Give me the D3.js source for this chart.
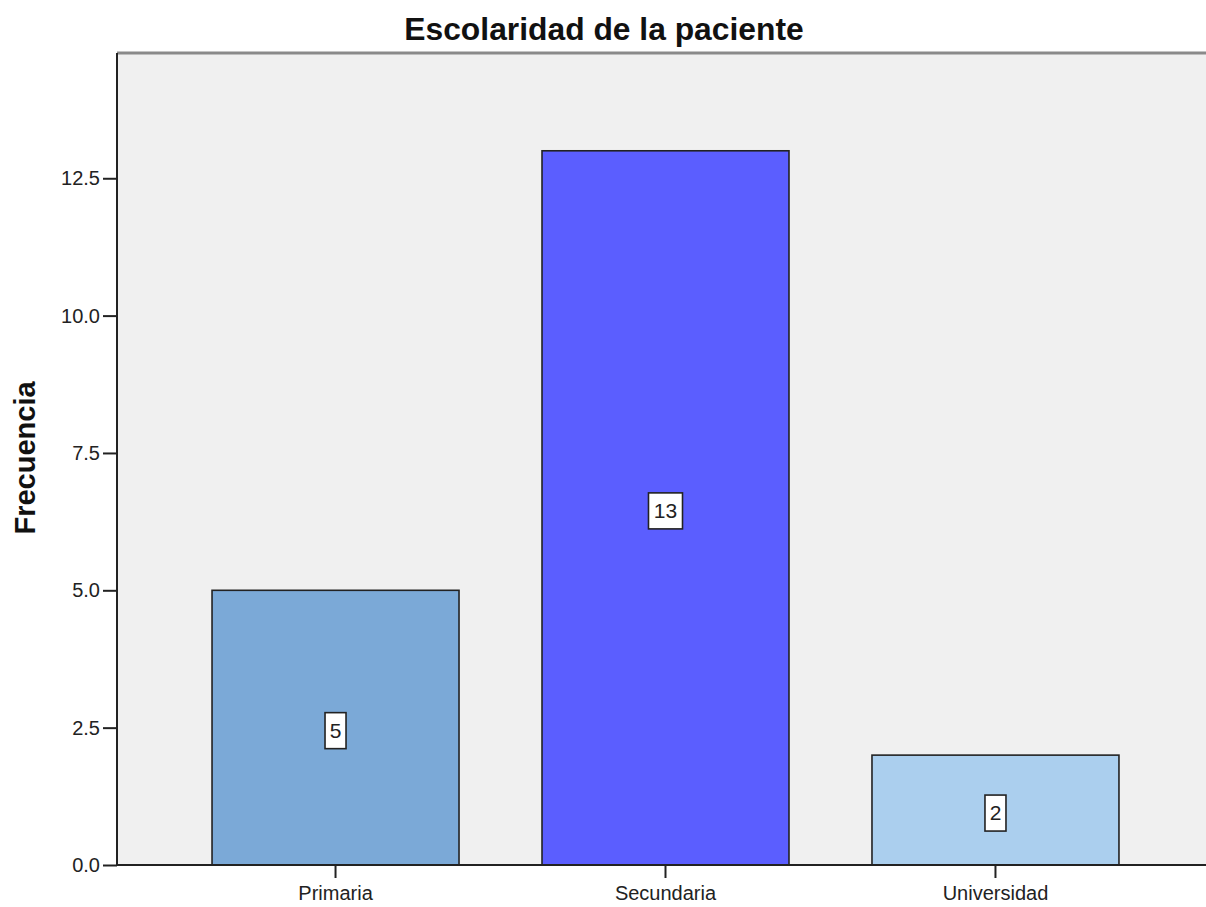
<!DOCTYPE html>
<html><head><meta charset="utf-8">
<script src="https://cdn.jsdelivr.net/npm/d3@7"></script>
<style>body{margin:0;background:#fff}svg{display:block}</style>
</head><body>
<svg id="c" width="1206" height="907"></svg>
<script>
const categories = ["Primaria", "Secundaria", "Universidad"];
const values = [5, 13, 2];
const barColors = ["#7BA9D7", "#5B5EFF", "#ABCFEE"];
const yTicks = [0, 2.5, 5, 7.5, 10, 12.5];
const yMax = 14.78;

const svg = d3.select("#c");
const m = {l: 117, t: 53, r: 1206, b: 865};
const font = "'Liberation Sans', Arial, sans-serif";

const x = d3.scaleBand().domain(categories).range([m.l, 1214]).paddingInner(0.2515).paddingOuter(0.288);
const y = d3.scaleLinear().domain([0, yMax]).range([m.b, m.t]);

svg.append("rect").attr("x", m.l).attr("y", m.t).attr("width", m.r - m.l).attr("height", m.b - m.t).attr("fill", "#F0F0F0");
svg.append("line").attr("x1", m.l).attr("x2", m.r).attr("y1", m.t).attr("y2", m.t).attr("stroke", "#8a8a8a").attr("stroke-width", 3);

svg.selectAll(".bar").data(values).join("rect")
  .attr("x", (d, i) => x(categories[i]))
  .attr("y", d => y(d))
  .attr("width", x.bandwidth())
  .attr("height", d => y(0) - y(d))
  .attr("fill", (d, i) => barColors[i])
  .attr("stroke", "#222").attr("stroke-width", 1.6);

const yAxis = svg.append("g").attr("transform", `translate(${m.l},0)`)
  .call(d3.axisLeft(y).tickValues(yTicks).tickFormat(d3.format(".1f")).tickSize(14).tickSizeOuter(0));
yAxis.select(".domain").attr("stroke", "#222").attr("stroke-width", 2).attr("d", `M0,${m.t}V${m.b}`);
yAxis.selectAll(".tick line").attr("stroke", "#222").attr("stroke-width", 2);
yAxis.selectAll(".tick text").attr("font-family", font).attr("font-size", 20).attr("fill", "#222").attr("x", -17);

const xAxis = svg.append("g").attr("transform", `translate(0,${m.b})`)
  .call(d3.axisBottom(x).tickSize(13).tickSizeOuter(0));
xAxis.select(".domain").attr("stroke", "#222").attr("stroke-width", 2).attr("d", `M${m.l},0H${m.r}`);
xAxis.selectAll(".tick line").attr("stroke", "#222").attr("stroke-width", 2);
xAxis.selectAll(".tick text").attr("font-family", font).attr("font-size", 20).attr("fill", "#222").attr("y", 21);

// value labels
const lab = svg.selectAll(".lab").data(values).join("g")
  .attr("transform", (d, i) => `translate(${x(categories[i]) + x.bandwidth() / 2},${y(d / 2) + 3})`);
lab.each(function(d) {
  const g = d3.select(this);
  const w = String(d).length > 1 ? 34 : 21;
  g.append("rect").attr("x", -w / 2).attr("y", -18).attr("width", w).attr("height", 36)
    .attr("fill", "#fff").attr("stroke", "#222").attr("stroke-width", 1.6);
  g.append("text").attr("text-anchor", "middle").attr("dy", "0.35em").attr("y", 0)
    .attr("font-family", font).attr("font-size", 21).attr("fill", "#222").text(d);
});

svg.append("text").attr("x", 604).attr("y", 40).attr("text-anchor", "middle")
  .attr("font-family", font).attr("font-size", 31.8).attr("font-weight", "bold").attr("fill", "#111")
  .text("Escolaridad de la paciente");

svg.append("text").attr("transform", "translate(35,458) rotate(-90)").attr("text-anchor", "middle")
  .attr("font-family", font).attr("font-size", 29).attr("font-weight", "bold").attr("fill", "#111")
  .text("Frecuencia");
</script>
</body></html>
